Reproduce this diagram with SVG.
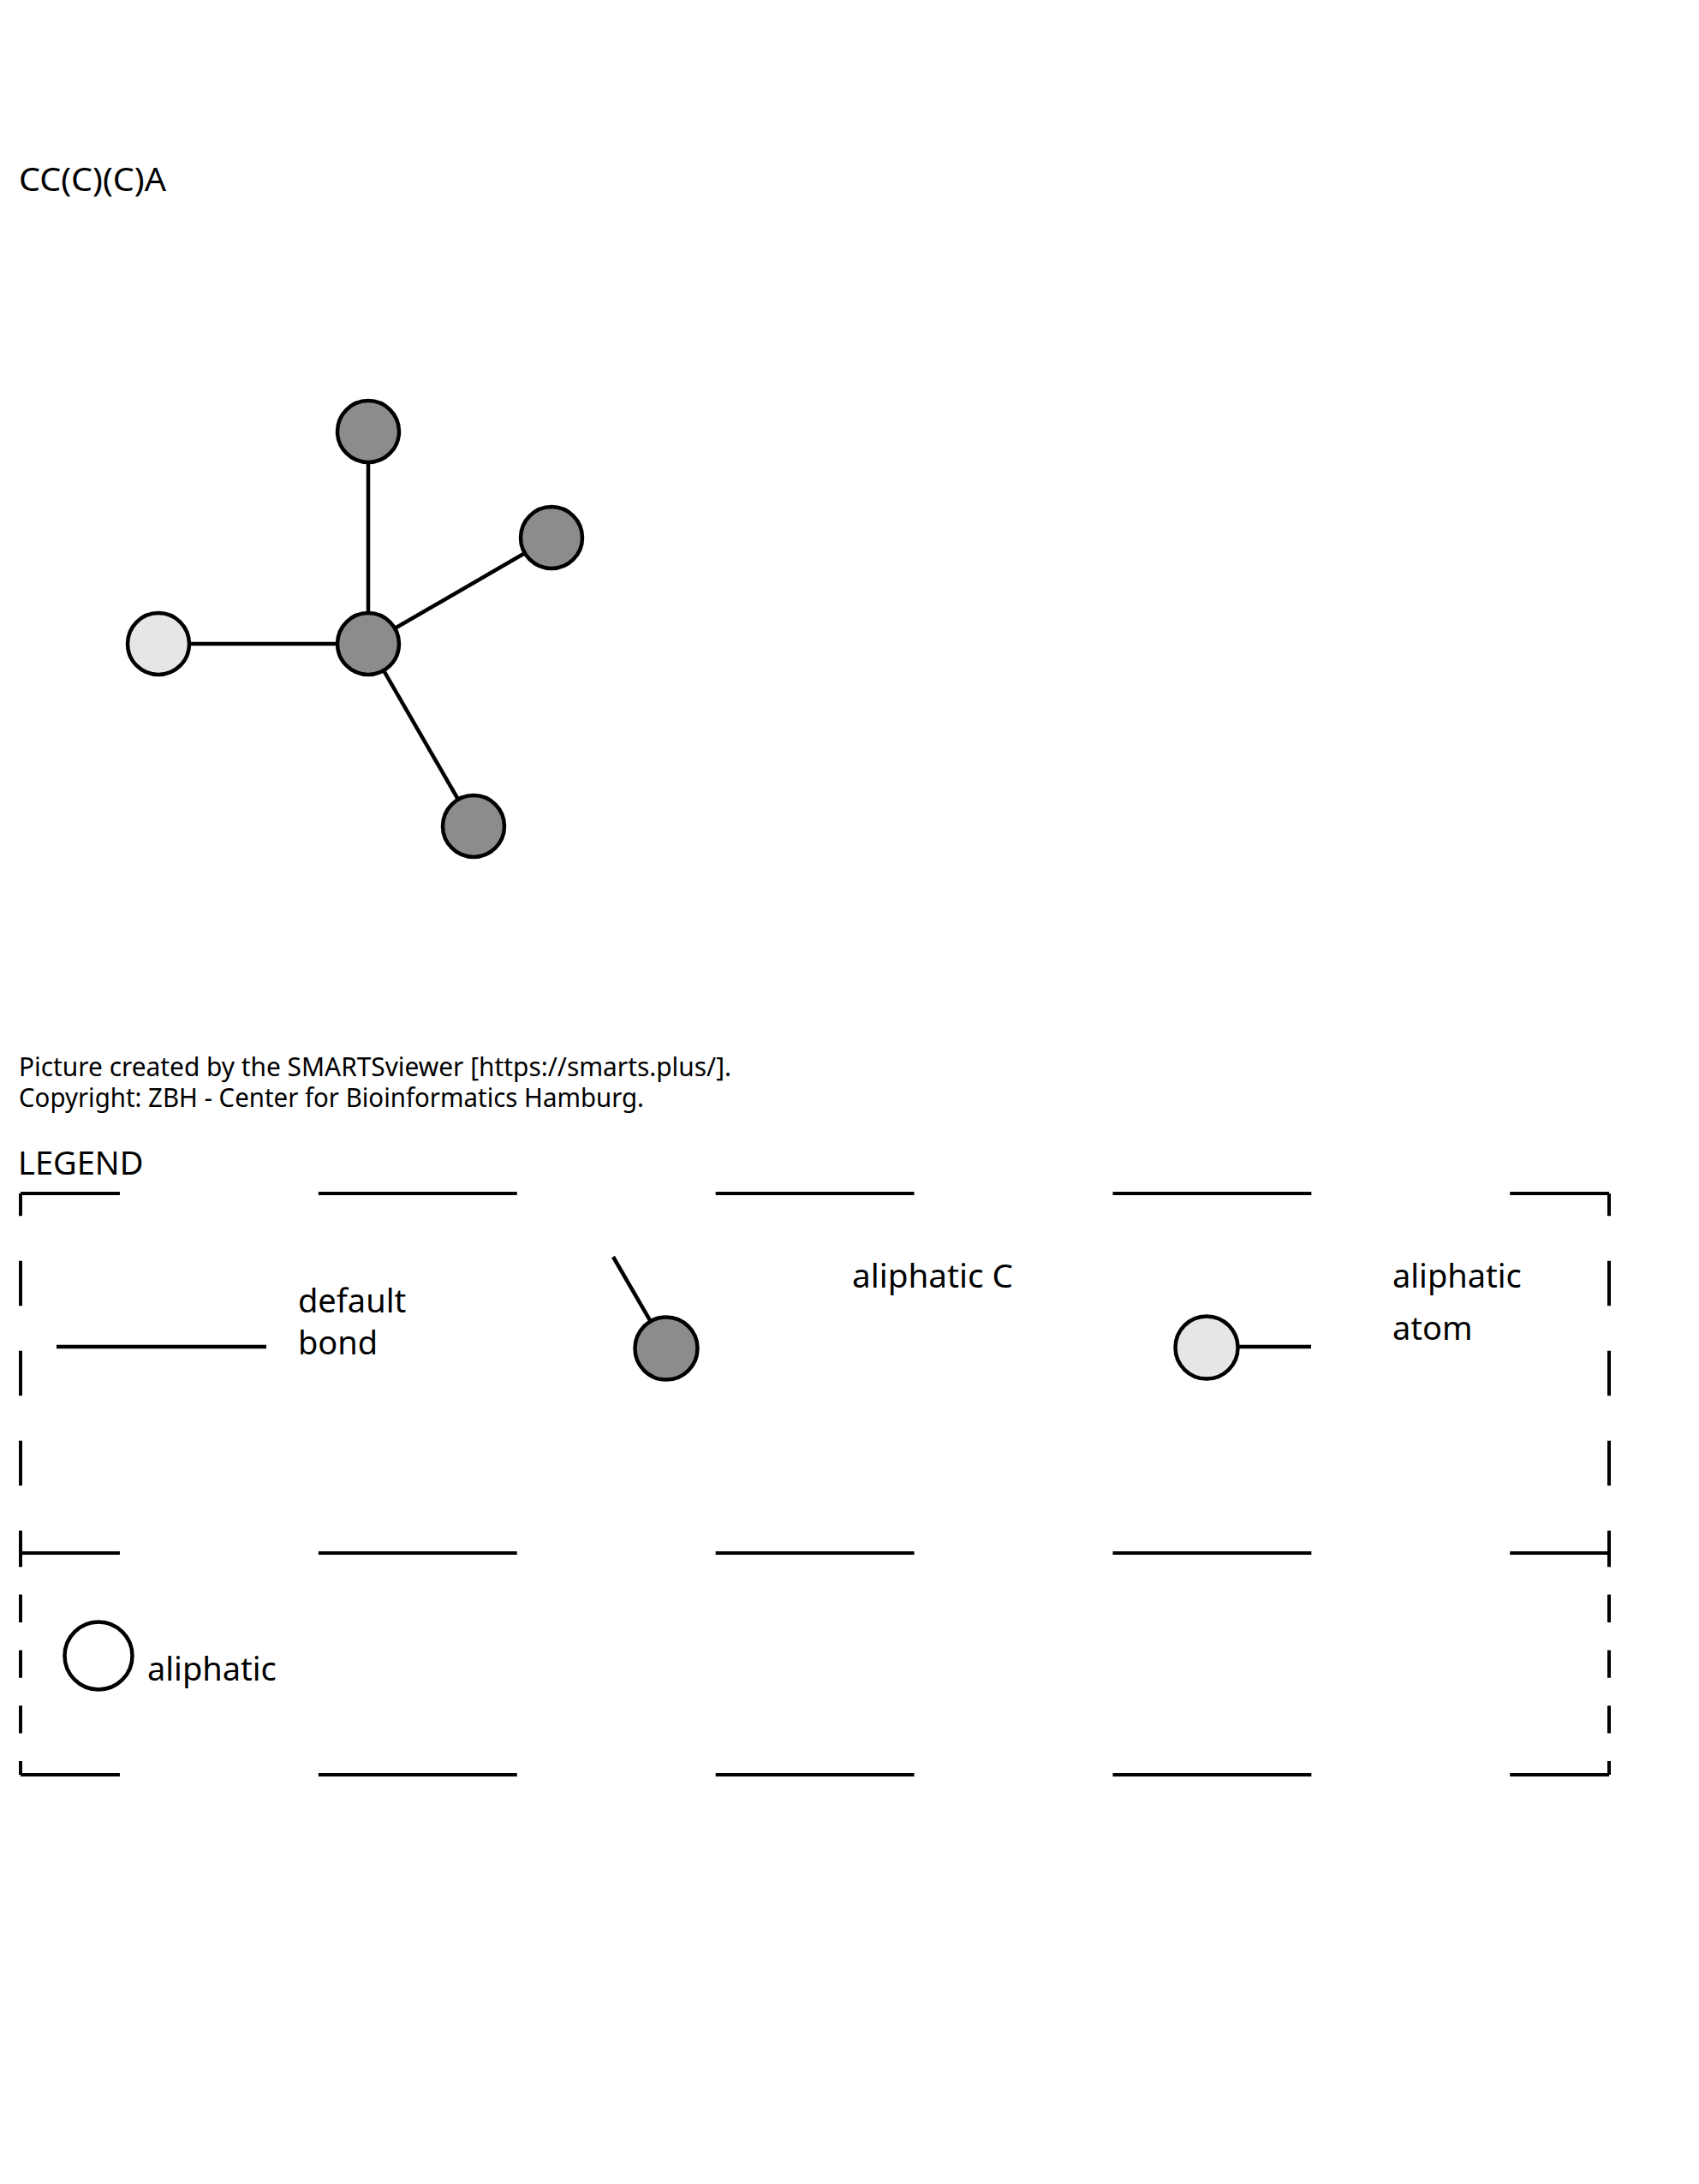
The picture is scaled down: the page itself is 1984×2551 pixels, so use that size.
<svg xmlns="http://www.w3.org/2000/svg" width="1984" height="2551" viewBox="0 0 1984 2551">
<defs>
<style>
text { font-family: "Noto Sans", "Liberation Sans", sans-serif; fill: #000; }
.t38 { font-size: 38px; }
.foot { font-size: 30px; }
.bond { stroke: #000; stroke-width: 4.5; stroke-linecap: butt; fill: none; }
.atom { stroke: #000; stroke-width: 4.5; }
.c { fill: #8c8c8c; }
.a { fill: #e6e6e6; }
.box { stroke: #000; stroke-width: 4; fill: none; }
.h { stroke-dasharray: 231.9 231.9; stroke-dashoffset: 115.95; }
.v1 { stroke-dasharray: 52.5 52.5; stroke-dashoffset: 26.25; }
.v2 { stroke-dasharray: 32.4 32.4; stroke-dashoffset: 16.2; }
</style>
</defs>
<rect x="0" y="0" width="1984" height="2551" fill="#fff"/>
<text id="smarts" x="22" y="223" font-size="39" textLength="172" lengthAdjust="spacingAndGlyphs">CC(C)(C)A</text>
<g id="connectors">
<line class="bond" x1="430" y1="752" x2="430" y2="504"/>
<line class="bond" x1="430" y1="752" x2="644" y2="628"/>
<line class="bond" x1="430" y1="752" x2="553" y2="965"/>
<line class="bond" x1="430" y1="752" x2="185" y2="752"/>
</g>
<g id="atom-center"><circle class="atom c" cx="430" cy="752" r="36"/></g>
<g id="atom-top"><circle class="atom c" cx="430" cy="504" r="36"/></g>
<g id="atom-right"><circle class="atom c" cx="644" cy="628" r="36"/></g>
<g id="atom-bottom"><circle class="atom c" cx="553" cy="965" r="36"/></g>
<g id="atom-left"><circle class="atom a" cx="185" cy="752" r="36"/></g>
<g id="footer">
<text class="foot" x="22" y="1257" textLength="832" lengthAdjust="spacingAndGlyphs">Picture created by the SMARTSviewer [https://smarts.plus/].</text>
<text class="foot" x="22" y="1293" textLength="730" lengthAdjust="spacingAndGlyphs">Copyright: ZBH - Center for Bioinformatics Hamburg.</text>
</g>
<g id="legend">
<text class="t38" x="21" y="1372">LEGEND</text>
<g id="legend-box">
<line class="box h" x1="24" y1="1394" x2="1879" y2="1394"/>
<line class="box h" x1="24" y1="1814" x2="1879" y2="1814"/>
<line class="box h" x1="24" y1="2073" x2="1879" y2="2073"/>
<line class="box v1" x1="24" y1="1394" x2="24" y2="1814"/>
<line class="box v1" x1="1879" y1="1394" x2="1879" y2="1814"/>
<line class="box v2" x1="24" y1="1814" x2="24" y2="2073"/>
<line class="box v2" x1="1879" y1="1814" x2="1879" y2="2073"/>
</g>
<g id="legend-default-bond">
<line class="bond" x1="66" y1="1573" x2="311" y2="1573"/>
<text class="t38" x="348" y="1533">default</text>
<text class="t38" x="348" y="1582">bond</text>
</g>
<g id="legend-aliphatic-c">
<line class="bond" x1="716" y1="1468" x2="778" y2="1575"/>
<circle class="atom c" cx="778" cy="1575" r="36.5"/>
<text class="t38" x="995" y="1504" textLength="188" lengthAdjust="spacingAndGlyphs">aliphatic C</text>
</g>
<g id="legend-aliphatic-atom">
<line class="bond" x1="1409" y1="1573" x2="1531" y2="1573"/>
<circle class="atom a" cx="1409" cy="1574" r="36.5"/>
<text class="t38" x="1626" y="1504">aliphatic</text>
<text class="t38" x="1626" y="1565">atom</text>
</g>
<g id="legend-aliphatic">
<circle class="atom" cx="115" cy="1934" r="39.5" fill="#fff" stroke-width="4"/>
<text class="t38" x="172" y="1963">aliphatic</text>
</g>
</g>
</svg>
